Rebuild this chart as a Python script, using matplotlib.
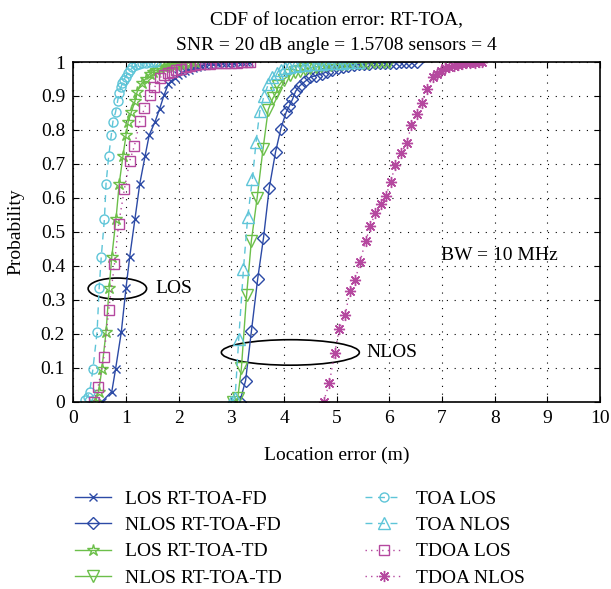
import matplotlib
matplotlib.use('Agg')
import matplotlib.pyplot as plt
from matplotlib.patches import Ellipse

plt.rcParams['font.family'] = ['Liberation Serif', 'DejaVu Serif']

# CDF points (location error in m, probability)
los_fd_x = [0.54, 0.73, 0.80, 0.91, 1.00, 1.07, 1.17, 1.26, 1.36, 1.44, 1.55, 1.64, 1.72, 1.80, 1.86, 1.93,
            1.99, 2.06, 2.12, 2.20, 2.28, 2.35, 2.42, 2.50, 2.58, 2.66, 2.74, 2.82, 2.90, 2.98, 3.05, 3.13,
            3.20, 3.27, 3.34]
los_fd_y = [0.0, 0.03, 0.095, 0.205, 0.336, 0.427, 0.539, 0.641, 0.722, 0.785, 0.824, 0.863, 0.902, 0.934,
            0.945, 0.953, 0.962, 0.968, 0.973, 0.977, 0.982, 0.986, 0.989, 0.991, 0.993, 0.994, 0.995, 0.996,
            0.997, 0.998, 0.998, 0.999, 0.999, 1.0, 1.0]

nlos_fd_x = [3.16, 3.27, 3.38, 3.50, 3.61, 3.72, 3.84, 3.94, 4.04, 4.10, 4.16, 4.22, 4.30, 4.40, 4.50, 4.60,
             4.72, 4.82, 4.92, 5.02, 5.12, 5.22, 5.32, 5.42, 5.52, 5.62, 5.72, 5.82, 5.92, 6.02, 6.12, 6.22,
             6.32, 6.42, 6.52]
nlos_fd_y = [0.0, 0.062, 0.207, 0.362, 0.482, 0.63, 0.736, 0.804, 0.852, 0.87, 0.89, 0.914, 0.93, 0.943,
             0.955, 0.96, 0.965, 0.972, 0.977, 0.982, 0.986, 0.989, 0.991, 0.993, 0.994, 0.995, 0.996, 0.997,
             0.997, 0.998, 0.998, 0.999, 0.999, 1.0, 1.0]

los_td_x = [0.42, 0.48, 0.54, 0.62, 0.68, 0.73, 0.81, 0.87, 0.94, 1.00, 1.04, 1.10, 1.17, 1.21, 1.30, 1.37,
            1.45, 1.51, 1.57, 1.65, 1.72, 1.80, 1.87, 1.94, 2.02, 2.10, 2.18, 2.25, 2.31]
los_td_y = [0.0, 0.03, 0.095, 0.205, 0.336, 0.427, 0.539, 0.641, 0.722, 0.785, 0.824, 0.852, 0.885, 0.912,
            0.938, 0.95, 0.965, 0.971, 0.976, 0.981, 0.985, 0.988, 0.99, 0.992, 0.995, 0.997, 0.998, 0.999, 1.0]

nlos_td_x = [3.03, 3.12, 3.19, 3.29, 3.38, 3.49, 3.60, 3.70, 3.79, 3.85, 3.89, 3.99, 4.11, 4.20, 4.30, 4.40,
             4.50, 4.60, 4.70, 4.80, 4.90, 5.00, 5.10, 5.20, 5.30, 5.40, 5.50, 5.60, 5.70, 5.80, 5.90, 6.00]
nlos_td_y = [0.0, 0.01, 0.098, 0.315, 0.474, 0.601, 0.743, 0.86, 0.894, 0.91, 0.929, 0.948, 0.963, 0.97,
             0.975, 0.979, 0.983, 0.986, 0.988, 0.99, 0.992, 0.993, 0.994, 0.995, 0.996, 0.997, 0.998, 0.998,
             0.999, 0.999, 1.0, 1.0]

toa_los_x = [0.22, 0.27, 0.31, 0.37, 0.45, 0.49, 0.53, 0.59, 0.62, 0.67, 0.72, 0.75, 0.80, 0.84, 0.87, 0.90,
             0.93, 0.96, 0.99, 1.03, 1.07, 1.12, 1.19, 1.25, 1.30, 1.37, 1.45, 1.51, 1.57]
toa_los_y = [0.005, 0.015, 0.03, 0.095, 0.205, 0.336, 0.427, 0.539, 0.641, 0.722, 0.785, 0.824, 0.852, 0.885,
             0.91, 0.925, 0.937, 0.948, 0.957, 0.967, 0.976, 0.984, 0.99, 0.994, 0.996, 0.998, 0.999, 1.0, 1.0]

toa_nlos_x = [3.00, 3.07, 3.14, 3.23, 3.31, 3.40, 3.47, 3.54, 3.62, 3.70, 3.78, 3.86, 3.94, 4.02, 4.10, 4.20,
              4.30, 4.40, 4.50, 4.60, 4.70, 4.80, 4.90, 5.00, 5.10, 5.20, 5.30, 5.40]
toa_nlos_y = [0.0, 0.01, 0.185, 0.392, 0.543, 0.657, 0.766, 0.855, 0.9, 0.934, 0.955, 0.968, 0.976, 0.981,
              0.985, 0.988, 0.99, 0.992, 0.993, 0.994, 0.995, 0.996, 0.997, 0.998, 0.998, 0.999, 1.0, 1.0]

tdoa_los_x = [0.39, 0.47, 0.58, 0.67, 0.78, 0.86, 0.97, 1.07, 1.16, 1.26, 1.35, 1.45, 1.54, 1.64, 1.72, 1.80,
              1.87, 1.95, 2.05, 2.13, 2.21, 2.30, 2.40, 2.50, 2.60, 2.70, 2.80, 2.90, 3.00, 3.10, 3.20, 3.30, 3.36]
tdoa_los_y = [0.0, 0.044, 0.132, 0.269, 0.405, 0.524, 0.627, 0.709, 0.754, 0.825, 0.864, 0.902, 0.925, 0.954,
              0.962, 0.968, 0.972, 0.976, 0.98, 0.985, 0.988, 0.991, 0.993, 0.994, 0.995, 0.996, 0.997, 0.997,
              0.998, 0.998, 0.999, 0.999, 1.0]

tdoa_nlos_x = [4.75, 4.86, 4.96, 5.05, 5.16, 5.25, 5.35, 5.44, 5.55, 5.64, 5.73, 5.85, 5.93, 6.03, 6.11, 6.23,
               6.33, 6.42, 6.52, 6.62, 6.72, 6.82, 6.90, 6.98, 7.06, 7.14, 7.22, 7.30, 7.38, 7.46, 7.54, 7.62,
               7.70, 7.76]
tdoa_nlos_y = [0.0, 0.054, 0.142, 0.215, 0.254, 0.326, 0.357, 0.41, 0.474, 0.516, 0.555, 0.582, 0.606, 0.648,
               0.697, 0.733, 0.762, 0.814, 0.847, 0.878, 0.921, 0.955, 0.966, 0.975, 0.981, 0.985, 0.989, 0.992,
               0.994, 0.996, 0.997, 0.998, 0.999, 1.0]

x_ticks = [0, 1, 2, 3, 4, 5, 6, 7, 8, 9, 10]
y_ticks = [0, 0.1, 0.2, 0.3, 0.4, 0.5, 0.6, 0.7, 0.8, 0.9, 1]
y_tick_labels = ['0', '0.1', '0.2', '0.3', '0.4', '0.5', '0.6', '0.7', '0.8', '0.9', '1']

blue = '#2c4aa6'
green = '#6cbf4a'
cyan = '#5ec5d8'
magenta = '#b5489f'
fs = 14

fig = plt.figure(figsize=(6.11, 5.89), dpi=100)
ax = fig.add_axes([0.1201, 0.318, 0.8619, 0.5767])

h1, = ax.plot(los_fd_x, los_fd_y, '-', color=blue, lw=1, marker='x', ms=5.5, mew=1, label='LOS RT-TOA-FD')
h2, = ax.plot(nlos_fd_x, nlos_fd_y, '-', color=blue, lw=1, marker='D', ms=6.5, mfc='none', mew=1,
              label='NLOS RT-TOA-FD')
h3, = ax.plot(los_td_x, los_td_y, '-', color=green, lw=1, marker='*', ms=9, mfc='none', mew=1,
              label='LOS RT-TOA-TD')
h4, = ax.plot(nlos_td_x, nlos_td_y, '-', color=green, lw=1, marker='v', ms=8, mfc='none', mew=1,
              label='NLOS RT-TOA-TD')
h5, = ax.plot(toa_los_x, toa_los_y, color=cyan, lw=1, ls=(0, (5, 4)), marker='o', ms=6.5, mfc='none', mew=1,
              label='TOA LOS')
h6, = ax.plot(toa_nlos_x, toa_nlos_y, color=cyan, lw=1, ls=(0, (5, 4)), marker='^', ms=8, mfc='none', mew=1,
              label='TOA NLOS')
h7, = ax.plot(tdoa_los_x, tdoa_los_y, color=magenta, lw=1, ls=(0, (1, 3)), marker='s', ms=6.5, mfc='none',
              mew=1, label='TDOA LOS')
h8, = ax.plot(tdoa_nlos_x, tdoa_nlos_y, color=magenta, lw=1, ls=(0, (1, 3)), marker=(8, 2, 0), ms=8, mew=1,
              label='TDOA NLOS')

ax.set_xlim(0, 10)
ax.set_ylim(0, 1)
ax.set_xticks(x_ticks)
ax.set_yticks(y_ticks)
ax.set_yticklabels(y_tick_labels)
ax.tick_params(direction='in', top=True, right=True, labelsize=fs, length=4, pad=6)
ax.grid(True, color='black', ls=(0, (1, 6)), lw=0.8)
for s in ax.spines.values():
    s.set_linewidth(1.2)

ax.set_title('CDF of location error: RT-TOA,\nSNR = 20 dB angle = 1.5708 sensors = 4', fontsize=fs,
             linespacing=1.55, pad=9)
ax.set_xlabel('Location error (m)', fontsize=fs, labelpad=14)
ax.set_ylabel('Probability', fontsize=fs, labelpad=12)

# annotations
ax.add_patch(Ellipse((0.835, 0.333), 1.11, 0.062, fill=False, ec='black', lw=1.2))
ax.text(1.55, 0.333, 'LOS', fontsize=fs, va='center', ha='left')
ax.add_patch(Ellipse((4.12, 0.145), 2.62, 0.075, fill=False, ec='black', lw=1.2))
ax.text(5.57, 0.145, 'NLOS', fontsize=fs, va='center', ha='left')
ax.text(6.99, 0.43, 'BW = 10 MHz', fontsize=fs, va='center', ha='left')

leg_kw = dict(frameon=False, fontsize=fs, handlelength=1.9, handletextpad=0.7, labelspacing=0.45,
              borderpad=0, borderaxespad=0, loc='upper left')
fig.legend(handles=[h1, h2, h3, h4], bbox_to_anchor=(0.122, 0.168), **leg_kw)
fig.legend(handles=[h5, h6, h7, h8], bbox_to_anchor=(0.598, 0.168), **leg_kw)

fig.savefig('out.png', dpi=100)
